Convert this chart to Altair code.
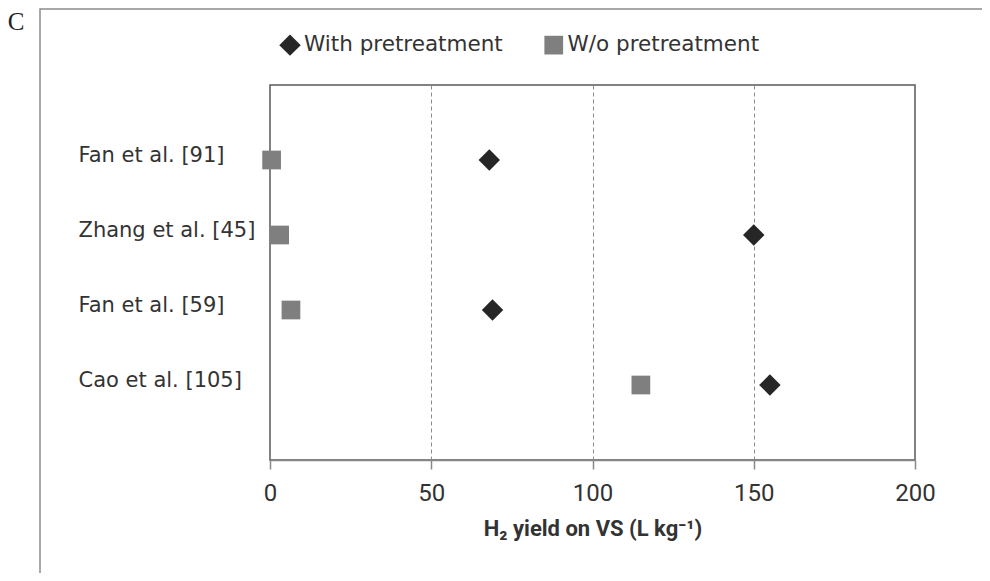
import altair as alt
import pandas as pd

studies = ["Fan et al. [91]", "Zhang et al. [45]", "Fan et al. [59]", "Cao et al. [105]"]
with_pre = [68, 150, 69, 155]
without_pre = [0.5, 3, 6.5, 115]
series = ["With pretreatment", "W/o pretreatment"]
x_ticks = [0, 50, 100, 150, 200]

rows = []
for s, a, b in zip(studies, with_pre, without_pre):
    rows.append({"study": s, "series": series[0], "yield": a})
    rows.append({"study": s, "series": series[1], "yield": b})
df = pd.DataFrame(rows)

one = pd.DataFrame({"k": [0]})

frame = alt.Chart(one).mark_rect(fill=None, stroke="#8c8c8c", strokeWidth=1.5).encode(
    x=alt.value(-230), x2=alt.value(760), y=alt.value(-76), y2=alt.value(560)
)

letter = alt.Chart(one).mark_text(
    text="C", font="Liberation Serif", fontSize=25, color="#222", align="center", baseline="middle"
).encode(x=alt.value(-254), y=alt.value(-63))

points = alt.Chart(df).mark_point(filled=True, opacity=1, strokeWidth=0).encode(
    x=alt.X(
        "yield:Q",
        scale=alt.Scale(domain=[0, 200], nice=False, zero=True),
        axis=alt.Axis(
            values=x_ticks,
            title="H₂ yield on VS (L kg⁻¹)",
            titleFont="Roboto",
            titleFontSize=22,
            titleFontWeight="bold",
            titleColor="#333333",
            titlePadding=13,
            labelFont="Roboto",
            labelFontSize=24,
            labelColor="#333333",
            labelPadding=12,
            labelFlush=False,
            tickSize=9,
            tickColor="#888888",
            tickWidth=1.5,
            domainColor="#888888",
            domainWidth=1.5,
            grid=True,
            gridColor="#8c8c8c",
            gridDash=[4, 3],
            gridWidth=1,
            gridOpacity={"condition": {"test": "datum.value == 0 || datum.value == 200", "value": 0}, "value": 1},
        ),
    ),
    y=alt.Y(
        "study:N",
        sort=studies,
        scale=alt.Scale(type="point", padding=1),
        axis=alt.Axis(
            title=None,
            ticks=False,
            tickSize=0,
            domain=False,
            grid=False,
            labelAlign="left",
            labelBaseline="middle",
            labelPadding=192,
            labelOffset=-5,
            labelFont="DejaVu Sans",
            labelFontSize=21,
            labelColor="#333333",
            labelLimit=0,
        ),
    ),
    color=alt.Color(
        "series:N",
        sort=series,
        scale=alt.Scale(domain=series, range=["#262626", "#7f7f7f"]),
        legend=alt.Legend(
            title=None,
            orient="none",
            legendX=9,
            legendY=-51,
            direction="horizontal",
            labelFont="DejaVu Sans",
            labelFontSize=21.5,
            labelColor="#333333",
            labelOffset=3,
            labelLimit=0,
            columnPadding=40,
            padding=0,
            symbolStrokeWidth=0,
            symbolOpacity=1,
        ),
    ),
    shape=alt.Shape("series:N", sort=series, scale=alt.Scale(domain=series, range=["diamond", "square"])),
    size=alt.Size("series:N", sort=series, scale=alt.Scale(domain=series, range=[460, 350])),
)

chart = alt.layer(frame, letter, points).properties(
    width=645,
    height=375,
    autosize=alt.AutoSizeParams(type="none"),
    padding={"left": 262, "top": 77, "right": 67, "bottom": 113},
).configure(background="white").configure_view(stroke="#595959", strokeWidth=1.5)

chart.save("out.html", embed_options={"renderer": "svg", "actions": False})
